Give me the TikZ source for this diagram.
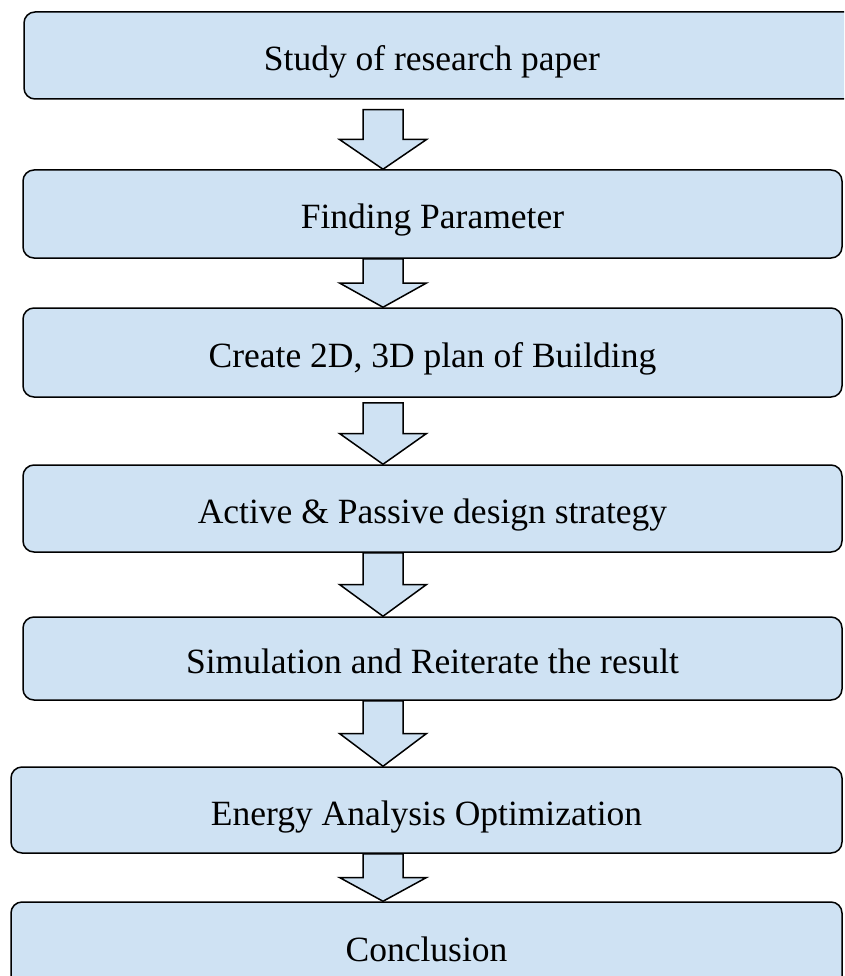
\documentclass[tikz,border=0pt]{standalone}
\usepackage{fontspec}
\setmainfont{Liberation Serif}
\usepackage{xcolor}
\usetikzlibrary{calc}
\definecolor{stageblue}{RGB}{207,226,243}

\begin{document}
\begin{tikzpicture}[x=1pt, y=-1pt]
  \tikzset{
    stage/.style={draw, line width=1.5pt, rounded corners=11pt, fill=stageblue,
      inner sep=0pt, text height=30pt, text depth=0pt,
      font=\fontsize{35.5}{40}\selectfont},
    flow/.style={draw, line width=1.5pt, fill=stageblue, line join=miter}
  }
  \useasboundingbox (0,0) rectangle (844,976);
  \clip (0,0) rectangle (844,976);
  % steps
  \node[stage, minimum width=832pt, minimum height=87pt] (b1) at (440,55.5) {\hspace*{-16pt}Study of research paper};
  \node[stage, minimum width=819pt, minimum height=88pt] (b2) at (432.5,214) {Finding Parameter};
  \node[stage, minimum width=819pt, minimum height=89pt] (b3) at (432.5,352.5) {Create 2D, 3D plan of Building};
  \node[stage, minimum width=819pt, minimum height=87pt] (b4) at (432.5,508.5) {Active \& Passive design strategy};
  \node[stage, minimum width=819pt, minimum height=83pt] (b5) at (432.5,658.5) {Simulation and Reiterate the result};
  \node[stage, minimum width=831pt, minimum height=86pt] (b6) at (426.5,810) {Energy Analysis Optimization};
  \node[stage, minimum width=831pt, minimum height=88pt] (b7) at (426.5,946) {Conclusion};
  % block arrows
  \coordinate (axis) at (383,0);
  \foreach \a/\b/\gap in {b1/b2/10, b2/b3/0, b3/b4/5, b4/b5/0, b5/b6/0, b6/b7/0}{
    \coordinate (top) at ($(\a.south -| axis)+(0,\gap)$);
    \coordinate (tip) at (\b.north -| axis);
    \coordinate (mid) at ($(top)!0.5!(tip)$);
    \draw[flow] ($(top)+(-20,0)$) -- ($(top)+(20,0)$) -- ($(mid)+(20,0)$)
      -- ($(mid)+(43.5,0)$) -- (tip) -- ($(mid)+(-43.5,0)$)
      -- ($(mid)+(-20,0)$) -- cycle;
  }
\end{tikzpicture}
\end{document}
